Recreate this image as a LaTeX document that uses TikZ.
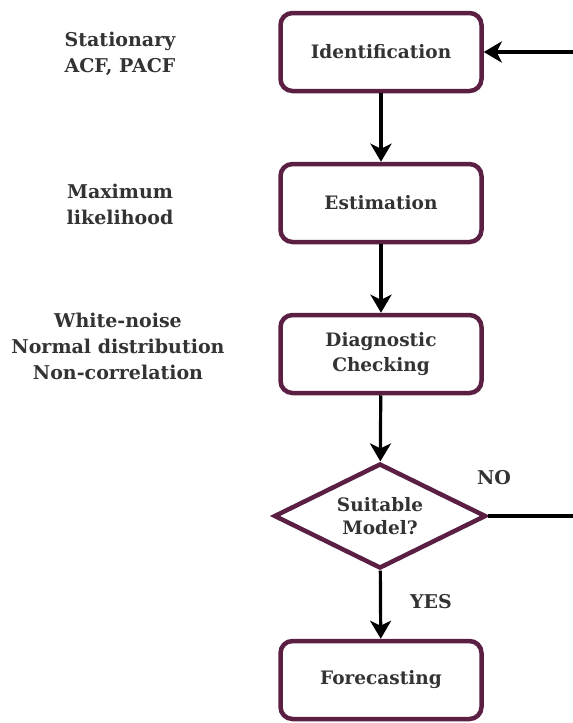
\documentclass[tikz,border=0pt]{standalone}
\usepackage{fontspec}
\setmainfont{DejaVu Serif}
\usetikzlibrary{shapes.geometric,arrows.meta}
\definecolor{boxc}{HTML}{5A1F42}
\definecolor{txtc}{HTML}{333333}
\begin{document}
\begin{tikzpicture}[x=1pt,y=-1pt,
  stepbox/.style={draw=boxc,line width=4.5pt,rounded corners=12pt,fill=white,
    minimum width=201pt,minimum height=78pt,align=center,font=\bfseries\fontsize{18.5}{25}\selectfont,text=txtc},
  decide/.style={draw=boxc,line width=4.5pt,diamond,aspect=2,fill=white,
    minimum width=212pt,minimum height=105pt,inner sep=0pt,align=center,font=\bfseries\fontsize{18.5}{23}\selectfont,text=txtc},
  side/.style={align=center,font=\bfseries\fontsize{19}{26}\selectfont,text=txtc},
  flow/.style={line width=3.2pt,-{Stealth[length=18pt,width=21pt,inset=5pt]}}]
\useasboundingbox (0,0) rectangle (573,723);
\node[stepbox] (id) at (381,52) {Identification};
\node[stepbox] (est) at (381,203) {Estimation};
\node[stepbox] (diag) at (381,354) {Diagnostic\\Checking};
\node[decide] (suit) at (380,516) {Suitable\\Model?};
\node[stepbox] (fore) at (381,680) {Forecasting};
\node[side] (l1) at (120,54) {Stationary\\ACF, PACF};
\node[side] (l2) at (120,204) {Maximum\\likelihood};
\node[side] (l3) at (118,346) {White-noise\\Normal distribution\\Non-correlation};
\node[side] (no) at (494,478) {NO};
\node[side] (yes) at (431,602) {YES};
\coordinate (r1) at (590,516);
\coordinate (r2) at (590,52);
\draw[flow] (id) -- (est);
\draw[flow] (est) -- (diag);
\draw[flow] (diag) -- (suit);
\draw[flow] (suit) -- (fore);
\draw[flow] (suit.east) -- (r1) -- (r2) -- (id.east);
\end{tikzpicture}
\end{document}
